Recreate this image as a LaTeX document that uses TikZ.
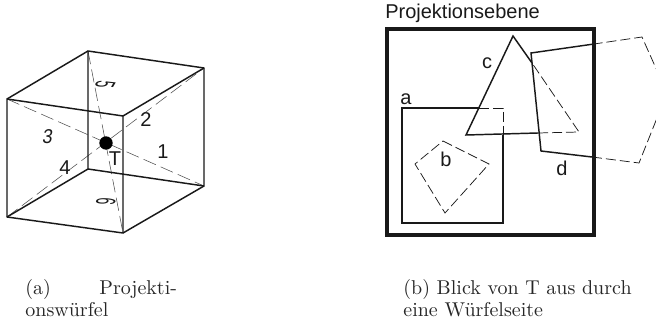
\documentclass[tikz,border=0pt]{standalone}
\usepackage{fontspec}
\newfontfamily\lab{Liberation Sans}
\begin{document}
\begin{tikzpicture}[x=0.75pt,y=-0.75pt,
  solidline/.style={line width=1.1pt,black!90},
  thinsolid/.style={line width=0.85pt,black!90},
  dashline/.style={line width=0.4pt,dash pattern=on 10pt off 4pt,black!70},
  dashblack/.style={line width=0.55pt,dash pattern=on 7.5pt off 3pt,black!90},
  lbl/.style={font=\lab\fontsize{15}{17}\selectfont,inner sep=0pt,text=black!90},
  captext/.style={font=\fontsize{10}{12}\selectfont,scale=1.5,inner sep=0pt,anchor=base west,text=black!85}]
\useasboundingbox (0,0) rectangle (656,320);
\clip (0,0) rectangle (656,320);
% cube corners
\coordinate (ftl) at (7,99);
\coordinate (ftr) at (123,116);
\coordinate (fbl) at (7,217);
\coordinate (fbr) at (123,233);
\coordinate (btl) at (88,51);
\coordinate (btr) at (204,68);
\coordinate (bbl) at (88,169);
\coordinate (bbr) at (204,186);
\draw[dashline] (ftl) -- (bbr);
\draw[dashline] (fbl) -- (btr);
\draw[dashline] (btl) -- (fbr);
\draw[solidline,line join=round] (ftl) -- (ftr) -- (fbr) -- (fbl) -- cycle;
\draw[solidline,line join=round] (btl) -- (btr) -- (bbr) -- (bbl) -- cycle;
\draw[solidline] (ftl) -- (btl) (ftr) -- (btr) (fbl) -- (bbl) (fbr) -- (bbr);
\node[circle,fill=black,minimum size=10pt,inner sep=0pt] (T) at (106,143) {};
\node[lbl] (n1) at (163,152) {1};
\node[lbl] (n2) at (146,120) {2};
\node[lbl,xslant=0.15,xscale=.9] (n3) at (48,137) {3};
\node[lbl] (n4) at (65,168) {4};
\begin{scope}[shift={(105,85)}]
\node[lbl,cm={-.35,-.6,1.35,-.1,(0,0)},transform shape] (n5) at (0,0) {5};
\end{scope}
\begin{scope}[shift={(106,202)}]
\node[lbl,cm={-.35,-.6,1.35,-.1,(0,0)},transform shape] (n6) at (0,0) {6};
\end{scope}
\node[lbl] (nT) at (115,159) {T};
% right
\node[lbl,anchor=base west] (title) at (385,19) {Projektionsebene};
\draw[line width=2.3pt,black!90,line join=miter] (387,29) rectangle (594,235);
% a
\coordinate (a1) at (402,108);
\coordinate (a2) at (479,108);
\coordinate (a3) at (503,108);
\coordinate (a4) at (503,135);
\coordinate (a5) at (503,223);
\coordinate (a6) at (402,223);
\draw[thinsolid] (a2) -- (a1) -- (a6) -- (a5) -- (a4);
\draw[dashblack] (a2) -- (a3) -- (a4);
% b
\draw[dashblack] (443,141) -- (489,164) -- (445,213) -- (415,164) -- cycle;
% c
\coordinate (c1) at (513,36);
\coordinate (c2) at (466,135);
\coordinate (c3) at (579,132);
\coordinate (cd1) at (532,63);
\coordinate (cd2) at (538,133);
\draw[solidline,line join=miter] (cd1) -- (c1) -- (c2) -- (cd2);
\draw[dashblack] (cd2) -- (c3) -- (cd1);
% d
\coordinate (d1) at (531,53);
\coordinate (d2) at (541,151);
\coordinate (d3) at (592,157);
\coordinate (d4) at (639,163);
\coordinate (d5) at (667,93);
\coordinate (d6) at (642,37);
\coordinate (d7) at (594,44);
\draw[solidline,line join=miter] (d7) -- (d1) -- (d2) -- (d3);
\draw[dashblack] (d3) -- (d4) -- (d5) -- (d6) -- (d7);
\node[lbl] (la) at (406,99) {a};
\node[lbl] (lb) at (446,159) {b};
\node[lbl] (lc) at (487,63) {c};
\node[lbl] (ld) at (562,168) {d};
% captions
\node[captext] (ca1) at (25,294) {(a)};
\node[captext] (ca2) at (99,294) {Projekti-};
\node[captext] (ca3) at (25,316) {onswürfel};
\node[captext] (cb1) at (403,294) {(b) Blick von T aus durch};
\node[captext] (cb2) at (403,316) {eine Würfelseite};
\end{tikzpicture}
\end{document}
